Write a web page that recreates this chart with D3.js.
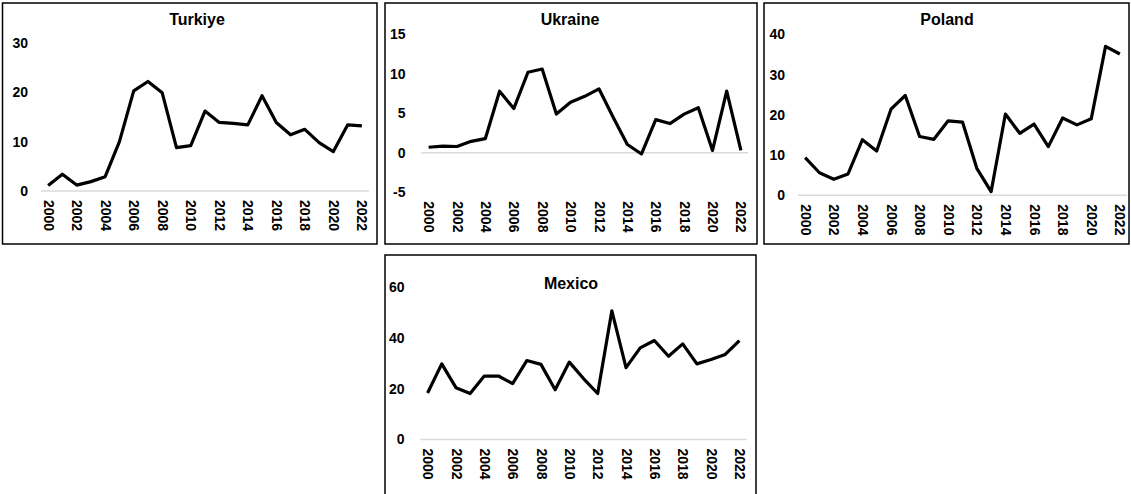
<!DOCTYPE html>
<html><head><meta charset="utf-8">
<script src="https://cdn.jsdelivr.net/npm/d3@7"></script>
<style>
html,body{margin:0;padding:0;background:#fff;}
svg{display:block;}
text{font-family:"Liberation Sans",Arial,sans-serif;font-weight:bold;fill:#000;}
</style></head>
<body>
<script>
const years = d3.range(2000, 2023).map(String);
const turkiye = [1.1,3.4,1.2,1.9,2.9,10.0,20.3,22.2,19.9,8.8,9.2,16.2,13.9,13.7,13.4,19.3,13.9,11.4,12.5,9.8,8.0,13.4,13.2];
const ukraine = [0.7,0.85,0.8,1.45,1.8,7.8,5.6,10.2,10.6,4.9,6.4,7.15,8.1,4.5,1.05,-0.15,4.2,3.7,4.9,5.7,0.3,7.8,0.3];
const poland  = [9.35,5.6,4.0,5.3,13.8,11.0,21.4,24.8,14.6,13.9,18.5,18.2,6.7,0.9,20.2,15.4,17.7,12.1,19.2,17.5,19.0,37.0,35.1];
const mexico  = [18.3,29.8,20.4,18.1,25.0,25.0,22.0,31.1,29.6,19.6,30.5,24.0,18.1,50.7,28.3,36.1,39.0,32.8,37.7,29.8,31.5,33.5,39.0];
const turkiyeTicks = [0,10,20,30];
const ukraineTicks = [-5,0,5,10,15];
const polandTicks  = [0,10,20,30,40];
const mexicoTicks  = [0,20,40,60];
const names = ["Turkiye","Ukraine","Poland","Mexico"];

const W = 1131, H = 494;
const svg = d3.select("body").append("svg").attr("width", W).attr("height", H);
const FONT = '"Liberation Sans",Arial,sans-serif';

// layout (positions only)
const panels = [
  {name:names[0], data:turkiye, ticks:turkiyeTicks, box:[2.5,3,377,244], px:[41,369], py:[191,43], dom:[0,30], pad:13, titleX:197, titleY:25},
  {name:names[1], data:ukraine, ticks:ukraineTicks, box:[385,3,757,244], px:[421.5,748], py:[192.3,34.3], dom:[-5,15], pad:16, titleX:570, titleY:25},
  {name:names[2], data:poland, ticks:polandTicks, box:[764,3,1129,244], px:[798,1127], py:[195.3,34.3], dom:[0,40], pad:13, titleX:947, titleY:25},
  {name:names[3], data:mexico, ticks:mexicoTicks, box:[385,255,756,497], px:[420.5,746.5], py:[439.4,287.3], dom:[0,60], pad:16, titleX:571, titleY:289}
];

panels.forEach(p => {
  const g = svg.append("g");
  g.append("rect").attr("x", p.box[0]).attr("y", p.box[1])
    .attr("width", p.box[2]-p.box[0]).attr("height", p.box[3]-p.box[1])
    .attr("fill", "#fff").attr("stroke", "#000").attr("stroke-width", 1.5);

  const x = d3.scalePoint().domain(years).range(p.px).padding(0.5);
  const y = d3.scaleLinear().domain(p.dom).range(p.py);

  // zero line
  g.append("line").attr("x1", p.px[0]).attr("x2", p.px[1])
    .attr("y1", y(0)).attr("y2", y(0)).attr("stroke", "#d9d9d9").attr("stroke-width", 1.5);

  // y axis labels
  const ya = g.append("g").attr("transform", `translate(${p.px[0]},0)`)
    .call(d3.axisLeft(y).tickValues(p.ticks).tickSize(0).tickPadding(p.pad).tickFormat(d => String(d)));
  ya.select(".domain").remove();
  ya.selectAll("text").style("font-size", "14px").style("font-family", FONT).style("font-weight","bold");

  // x axis labels rotated
  const xa = g.append("g").attr("transform", `translate(0,${p.py[0]})`)
    .call(d3.axisBottom(x).tickSize(0).tickValues(years.filter((d,i)=>i%2===0)));
  xa.select(".domain").remove();
  xa.selectAll("text")
    .attr("transform", "rotate(90)")
    .attr("x", 9).attr("y", 0).attr("dy", "0.35em")
    .style("text-anchor", "start")
    .style("font-size", "14px").style("font-family", FONT).style("font-weight","bold");

  // line
  const line = d3.line().x((d,i)=>x(years[i])).y(d=>y(d));
  g.append("path").datum(p.data).attr("d", line)
    .attr("fill", "none").attr("stroke", "#000").attr("stroke-width", 3.2).attr("stroke-linejoin", "round");

  g.append("text").attr("x", p.titleX).attr("y", p.titleY).attr("text-anchor", "middle")
    .style("font-size", "16px").text(p.name);
});
</script>
</body></html>
